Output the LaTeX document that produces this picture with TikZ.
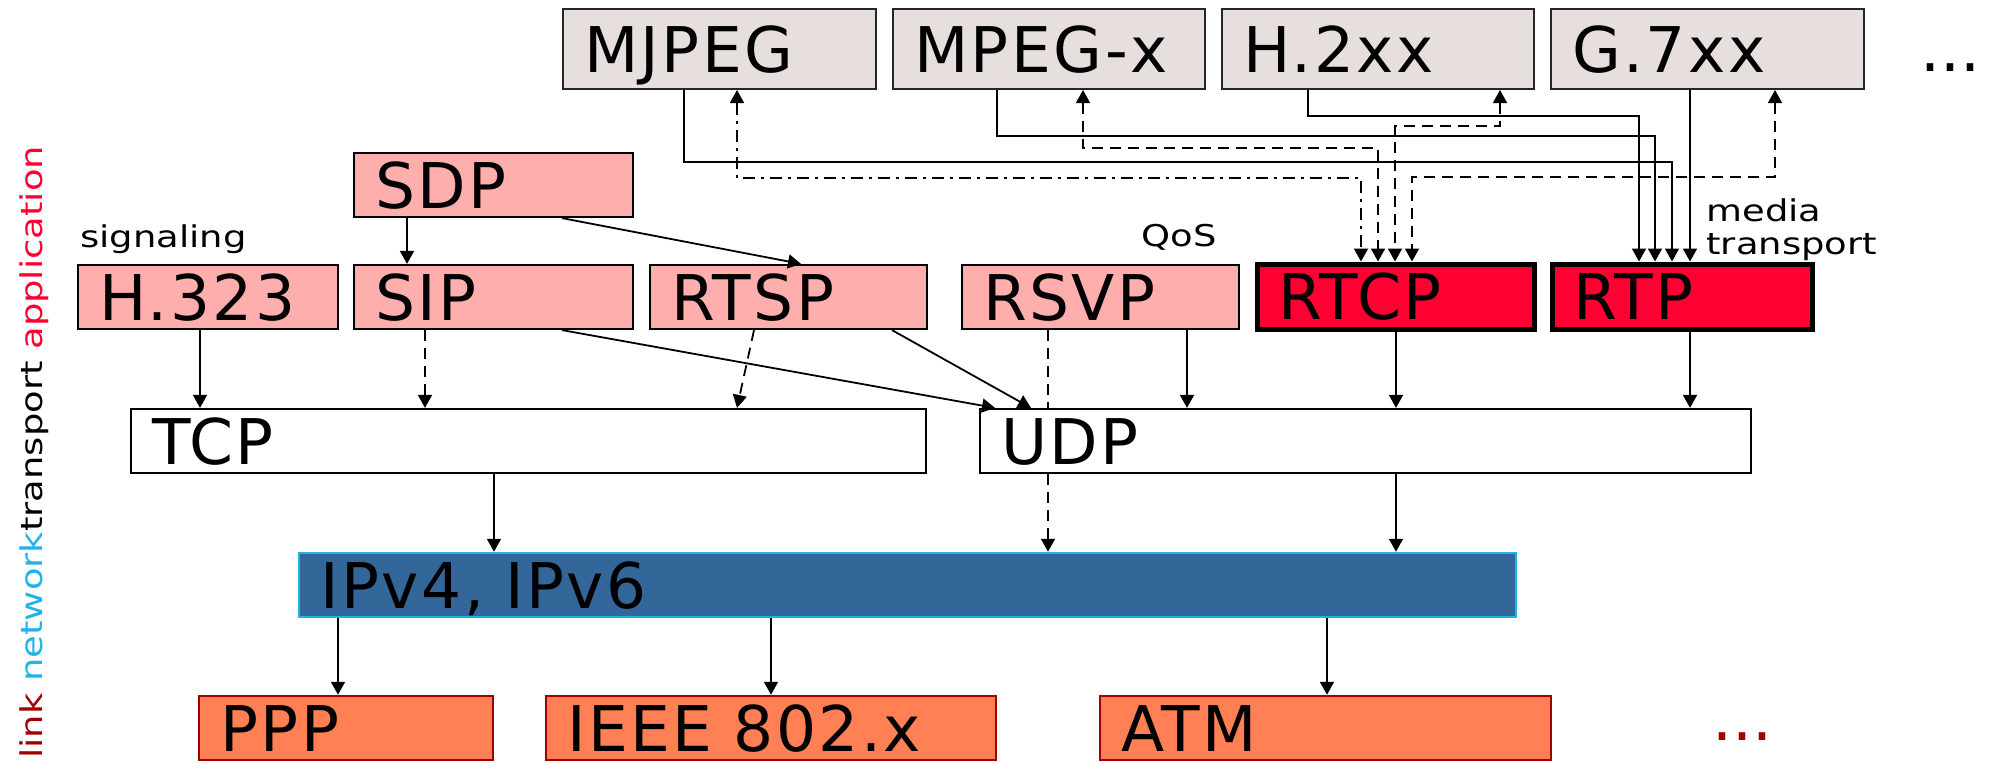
\documentclass[tikz,border=0pt]{standalone}
\usepackage{fontspec}
\setmainfont{DejaVu Sans}
\newfontfamily\boxfont[LetterSpace=4]{DejaVu Sans}
\newfontfamily\notefont[FakeStretch=1.23]{DejaVu Sans}
\usetikzlibrary{arrows.meta}

\definecolor{codecgray}{RGB}{230,223,221}
\definecolor{protopink}{RGB}{255,174,174}
\definecolor{rtpred}{RGB}{255,0,51}
\definecolor{ipblue}{RGB}{51,102,153}
\definecolor{ipcyan}{RGB}{30,180,230}
\definecolor{linkcoral}{RGB}{255,128,85}
\definecolor{linkdark}{RGB}{160,0,0}

% box given by its corners (x1,y1) and (x2,y2); label left aligned, 21 units in
\newcommand{\layerbox}[7]{%
  \pgfmathsetmacro{\lbW}{(#5-#3)*0.5}%
  \pgfmathsetmacro{\lbH}{(#6-#4)*0.5}%
  \pgfmathsetmacro{\lbT}{(#5-#3-42)*0.5}%
  \node[#2, minimum width=\lbW pt, minimum height=\lbH pt, text width=\lbT pt]
    (#1) at ({(#3+#5)/2},{(#4+#6)/2}) {#7};}

\begin{document}
\begin{tikzpicture}[x=0.5pt,y=-0.5pt,line join=miter,
  layer/.style={rectangle, inner sep=0pt, font=\boxfont\fontsize{31.5}{36}\selectfont,
    text height=23pt, text depth=0pt, align=left},
  codec/.style={layer, fill=codecgray, draw=black!85, line width=1pt},
  proto/.style={layer, fill=protopink, draw=black, line width=1.1pt},
  rtpbox/.style={layer, fill=rtpred, draw=black, line width=2.5pt},
  transp/.style={layer, fill=white, draw=black, line width=1.1pt},
  netbox/.style={layer, fill=ipblue, draw=ipcyan, line width=1.25pt},
  linkbox/.style={layer, fill=linkcoral, draw=linkdark, line width=1.25pt},
  note/.style={font=\notefont\fontsize{15}{17}\selectfont, inner sep=0pt, anchor=base west},
  dots/.style={font=\fontsize{31.5}{36}\selectfont, inner sep=0pt, anchor=base west},
  conn/.style={line width=0.9pt, -{Triangle[length=6.5pt,width=7pt]}},
  biconn/.style={line width=0.9pt, {Triangle[length=6.5pt,width=7pt]}-{Triangle[length=6.5pt,width=7pt]}},
  plainline/.style={line width=0.9pt},
  dashline/.style={dash pattern=on 5.5pt off 3.5pt},
  dashdotline/.style={dash pattern=on 6pt off 3pt on 1.5pt off 3pt}]

\useasboundingbox (0,0) rectangle (1993,762);

% codecs
\layerbox{mjpeg}{codec}{563}{9}{876}{89}{MJPEG}
\layerbox{mpegx}{codec}{893}{9}{1205}{89}{MPEG-x}
\layerbox{htwo}{codec}{1222}{9}{1534}{89}{H.2xx}
\layerbox{gseven}{codec}{1551}{9}{1864}{89}{G.7xx}
\node[dots] (morecodecs) at (1920,71) {...};

% application protocols
\layerbox{sdp}{proto}{354}{153}{633}{217}{SDP}
\layerbox{hthree}{proto}{78}{265}{338}{329}{H.323}
\layerbox{sip}{proto}{354}{265}{633}{329}{SIP}
\layerbox{rtsp}{proto}{650}{265}{927}{329}{RTSP}
\layerbox{rsvp}{proto}{962}{265}{1239}{329}{RSVP}
\layerbox{rtcp}{rtpbox}{1257}{264}{1534}{329}{RTCP}
\layerbox{rtp}{rtpbox}{1552}{264}{1812}{329}{RTP}

% transport, network, link
\layerbox{tcp}{transp}{131}{409}{926}{473}{TCP}
\layerbox{udp}{transp}{980}{409}{1751}{473}{UDP}
\layerbox{ip}{netbox}{299}{553}{1516}{617}{IPv4, IPv6}
\layerbox{ppp}{linkbox}{199}{696}{493}{760}{PPP}
\layerbox{ieee}{linkbox}{546}{696}{996}{760}{IEEE 802.x}
\layerbox{atm}{linkbox}{1100}{696}{1551}{760}{ATM}
\node[dots, text=linkdark] (morelinks) at (1712,740) {...};

% side notes
\node[note] (signal) at (80,247) {signaling};
\node[note] (qos) at (1141,246) {QoS};
\node[note] (media) at (1706,221) {media};
\node[note] (transport) at (1706,254) {transport};
\node[note, rotate=90] (layers) at (42,759)
  {\color{linkdark}link \color{ipcyan}network\color{black}transport \color{rtpred}application};

% signaling and control
\draw[conn] (sdp.south -| 407,0) -- (sip.north -| 407,0);
\draw[conn] (sdp.south -| 562,0) -- (rtsp.north -| 801,0);
\draw[conn] (hthree.south -| 200,0) -- (tcp.north -| 200,0);
\draw[conn,dashline] (sip.south -| 425,0) -- (tcp.north -| 425,0);
\draw[conn,dashline] (rtsp.south -| 754,0) -- (tcp.north -| 737,0);
\draw[conn] (sip.south -| 562,0) -- (udp.north -| 995,0);
\draw[conn] (rtsp.south -| 892,0) -- (udp.north -| 1031,0);
\draw[plainline,dashline] (rsvp.south -| 1048,0) -- (udp.north -| 1048,0);
\draw[conn,dashline] (udp.south -| 1048,0) -- (ip.north -| 1048,0);
\draw[conn] (rsvp.south -| 1187,0) -- (udp.north -| 1187,0);
\draw[conn] (rtcp.south -| 1396,0) -- (udp.north -| 1396,0);
\draw[conn] (rtp.south -| 1690,0) -- (udp.north -| 1690,0);

% down the stack
\draw[conn] (tcp.south -| 494,0) -- (ip.north -| 494,0);
\draw[conn] (udp.south -| 1396,0) -- (ip.north -| 1396,0);
\draw[conn] (ip.south -| 338,0) -- (ppp.north -| 338,0);
\draw[conn] (ip.south -| 771,0) -- (ieee.north -| 771,0);
\draw[conn] (ip.south -| 1327,0) -- (atm.north -| 1327,0);

% media streams into RTP
\draw[conn] (mjpeg.south -| 684,0) -- (684,162) -- (1672,162) -- (rtp.north -| 1672,0);
\draw[conn] (mpegx.south -| 997,0) -- (997,136) -- (1655,136) -- (rtp.north -| 1655,0);
\draw[conn] (htwo.south -| 1308,0) -- (1308,116) -- (1639,116) -- (rtp.north -| 1639,0);
\draw[conn] (gseven.south -| 1690,0) -- (rtp.north -| 1690,0);

% control feedback through RTCP
\draw[biconn,dashdotline] (mjpeg.south -| 737,0) -- (737,178) -- (1361,178) -- (rtcp.north -| 1361,0);
\draw[biconn,dashline] (mpegx.south -| 1083,0) -- (1083,148) -- (1378,148) -- (rtcp.north -| 1378,0);
\draw[biconn,dashline] (htwo.south -| 1500,0) -- (1500,126) -- (1395,126) -- (rtcp.north -| 1395,0);
\draw[biconn,dashline] (gseven.south -| 1775,0) -- (1775,177) -- (1412,177) -- (rtcp.north -| 1412,0);

\end{tikzpicture}
\end{document}
